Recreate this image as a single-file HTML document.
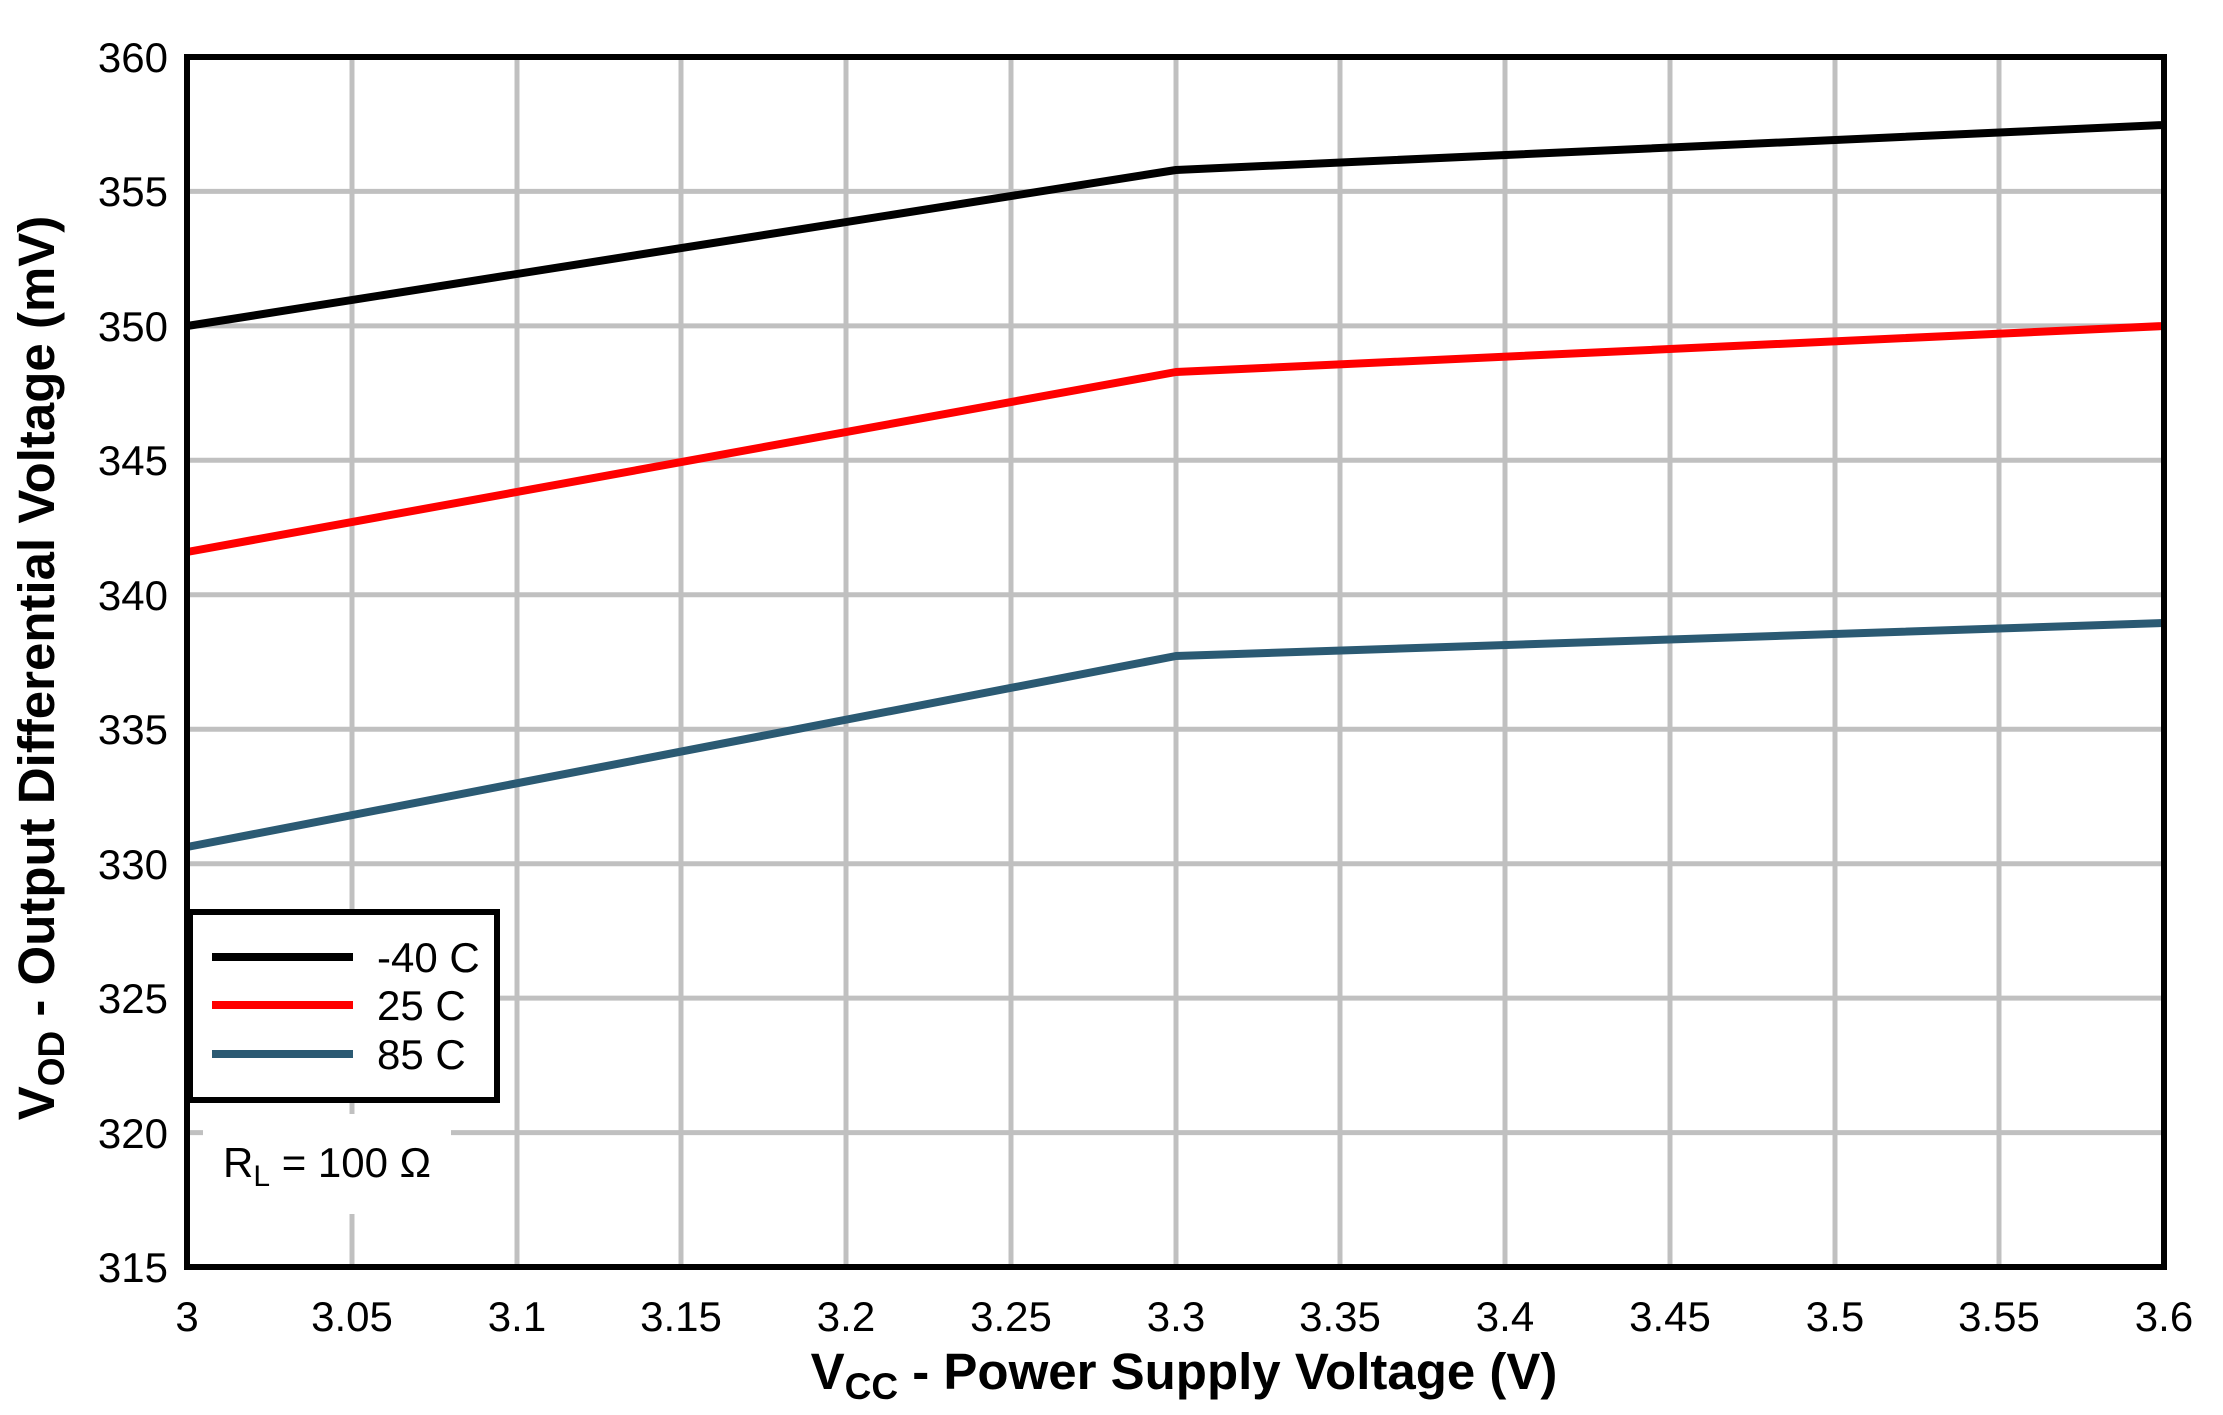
<!DOCTYPE html>
<html><head><style>html,body{margin:0;padding:0;background:#fff}</style></head>
<body>
<svg width="2223" height="1410" viewBox="0 0 2223 1410" xmlns="http://www.w3.org/2000/svg" font-family="Liberation Sans, Arial, sans-serif">
<rect width="2223" height="1410" fill="#fff"/>
<g stroke="#c0c0c0" stroke-width="5">
<line x1="352" y1="57" x2="352" y2="1267"/>
<line x1="517" y1="57" x2="517" y2="1267"/>
<line x1="681" y1="57" x2="681" y2="1267"/>
<line x1="846" y1="57" x2="846" y2="1267"/>
<line x1="1011" y1="57" x2="1011" y2="1267"/>
<line x1="1176" y1="57" x2="1176" y2="1267"/>
<line x1="1340" y1="57" x2="1340" y2="1267"/>
<line x1="1505" y1="57" x2="1505" y2="1267"/>
<line x1="1670" y1="57" x2="1670" y2="1267"/>
<line x1="1835" y1="57" x2="1835" y2="1267"/>
<line x1="1999" y1="57" x2="1999" y2="1267"/>
<line x1="187" y1="191.4" x2="2164" y2="191.4"/>
<line x1="187" y1="325.9" x2="2164" y2="325.9"/>
<line x1="187" y1="460.3" x2="2164" y2="460.3"/>
<line x1="187" y1="594.8" x2="2164" y2="594.8"/>
<line x1="187" y1="729.2" x2="2164" y2="729.2"/>
<line x1="187" y1="863.7" x2="2164" y2="863.7"/>
<line x1="187" y1="998.1" x2="2164" y2="998.1"/>
<line x1="187" y1="1132.6" x2="2164" y2="1132.6"/>
</g>
<rect x="203" y="1114" width="248" height="100" fill="#fff"/>
<g fill="none" stroke-width="8" stroke-linejoin="round">
<polyline stroke="#000" points="187,326 1176,170 2164,125"/>
<polyline stroke="#ff0000" points="187,552 1176,372 2164,326"/>
<polyline stroke="#2b5a73" points="187,847 1176,656 2164,623"/>
</g>
<rect x="187" y="57" width="1977" height="1210" fill="none" stroke="#000" stroke-width="6"/>
<rect x="190" y="912" width="307" height="188" fill="#fff" stroke="#000" stroke-width="6"/>
<g stroke-width="8">
<line x1="212" y1="957" x2="353" y2="957" stroke="#000"/>
<line x1="212" y1="1005" x2="353" y2="1005" stroke="#ff0000"/>
<line x1="212" y1="1054" x2="353" y2="1054" stroke="#2b5a73"/>
</g>
<g font-size="42" fill="#000">
<text x="377" y="972">-40 C</text>
<text x="377" y="1020">25 C</text>
<text x="377" y="1069">85 C</text>
<text x="223" y="1177">R<tspan font-size="30" dy="9">L</tspan><tspan dy="-9"> = 100 Ω</tspan></text>
</g>
<g font-size="42" fill="#000" text-anchor="end">
<text x="168" y="72">360</text>
<text x="168" y="206">355</text>
<text x="168" y="341">350</text>
<text x="168" y="475">345</text>
<text x="168" y="610">340</text>
<text x="168" y="744">335</text>
<text x="168" y="879">330</text>
<text x="168" y="1013">325</text>
<text x="168" y="1148">320</text>
<text x="168" y="1282">315</text>
</g>
<g font-size="42" fill="#000" text-anchor="middle">
<text x="187" y="1331">3</text>
<text x="352" y="1331">3.05</text>
<text x="517" y="1331">3.1</text>
<text x="681" y="1331">3.15</text>
<text x="846" y="1331">3.2</text>
<text x="1011" y="1331">3.25</text>
<text x="1176" y="1331">3.3</text>
<text x="1340" y="1331">3.35</text>
<text x="1505" y="1331">3.4</text>
<text x="1670" y="1331">3.45</text>
<text x="1835" y="1331">3.5</text>
<text x="1999" y="1331">3.55</text>
<text x="2164" y="1331">3.6</text>
</g>
<text x="1184" y="1389" font-size="51" font-weight="bold" text-anchor="middle">V<tspan font-size="37" dy="10">CC</tspan><tspan dy="-10"> - Power Supply Voltage (V)</tspan></text>
<text transform="translate(54,668) rotate(-90)" font-size="51" font-weight="bold" text-anchor="middle">V<tspan font-size="37" dy="10">OD</tspan><tspan dy="-10"> - Output Differential Voltage (mV)</tspan></text>
</svg>
</body></html>
